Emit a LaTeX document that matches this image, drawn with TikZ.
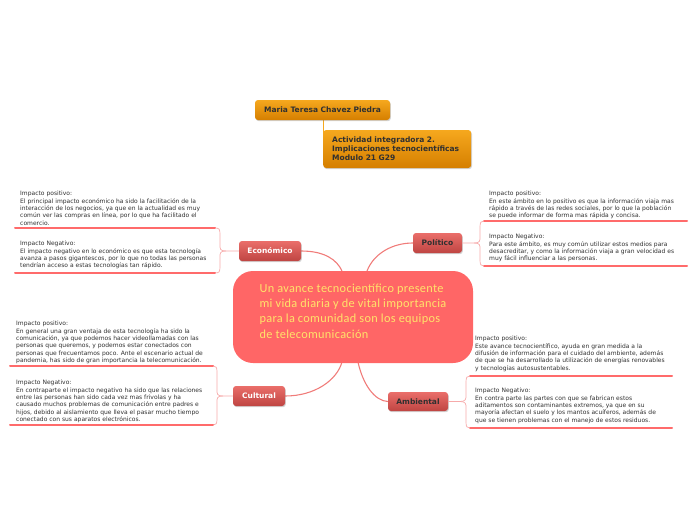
\documentclass[tikz,border=0pt]{standalone}
\usepackage{fontspec}
\setmainfont{DejaVu Sans}
\newfontfamily\centralfont[LetterSpace=2.5]{Carlito}
\usetikzlibrary{shadows}
\definecolor{centralred}{HTML}{FF6666}
\definecolor{centraltext}{HTML}{FFE36A}
\definecolor{branchtop}{HTML}{EA6E6A}
\definecolor{branchbot}{HTML}{BF4542}
\definecolor{orangetop}{HTML}{F6A81E}
\definecolor{orangebot}{HTML}{D57F00}
\definecolor{conn}{HTML}{F07C7A}
\definecolor{brkcol}{HTML}{F6AAAA}
\definecolor{ulcol}{HTML}{FF6B6B}
\definecolor{txt}{HTML}{303030}
\pgfdeclarelayer{bg}
\pgfsetlayers{bg,main}
\tikzset{
  branchbox/.style={rounded corners=3pt, top color=branchtop, bottom color=branchbot,
    draw=none, inner sep=0pt, minimum height=20pt,
    font=\fontsize{7.5}{8}\selectfont\bfseries,
    drop shadow={shadow xshift=0.8pt, shadow yshift=-1.2pt, opacity=0.35}},
  orangebox/.style={rounded corners=3pt, top color=orangetop, bottom color=orangebot,
    draw=none, inner sep=0pt, text=txt,
    font=\fontsize{7.5}{9}\selectfont\bfseries,
    drop shadow={shadow xshift=0.8pt, shadow yshift=-1.2pt, opacity=0.35}},
  infotext/.style={anchor=north west, align=left, inner sep=0pt, text=txt,
    font=\fontsize{6}{7.3}\selectfont},
  conline/.style={draw=conn, line width=1.1pt},
  brk/.style={draw=brkcol, line width=0.7pt},
  uline/.style={draw=ulcol, line width=2pt, line cap=round},
}
\begin{document}
\begin{tikzpicture}[x=1pt,y=-1pt]
\useasboundingbox (0,0) rectangle (696,520);

% central node
\node[fill=centralred, rounded corners=20pt, minimum width=240pt, minimum height=92pt,
  inner sep=0pt, align=left, text=centraltext, text depth=12pt,
  font=\centralfont\fontsize{12.3}{15.3}\selectfont] (central) at (353,317)
  {Un avance tecnocientífico presente\\mi vida diaria y de vital importancia\\para la comunidad son los equipos\\de telecomunicación};

% top orange nodes
\node[orangebox, minimum width=135pt, minimum height=20pt] (autor) at (322.5,110) {Maria Teresa Chavez Piedra};
\node[orangebox, minimum width=148pt, minimum height=38pt, align=left, anchor=west,
  text width=136pt, inner xsep=6pt, xshift=0pt] (actividad) at (323,149)
  {\hspace*{3pt}Actividad integradora 2.\\\hspace*{3pt}Implicaciones tecnocientíficas\\\hspace*{3pt}Modulo 21 G29};

% branch nodes
\node[branchbox, minimum width=62pt, text=white] (eco) at (270,251) {Económico};
\node[branchbox, minimum width=49pt, text=txt] (pol) at (437.5,243) {Político};
\node[branchbox, minimum width=52pt, text=white] (cul) at (259,396) {Cultural};
\node[branchbox, minimum width=60pt, text=txt, minimum height=19pt] (amb) at (418,401.5) {Ambiental};

% attach points on central node
\coordinate (cE) at (342,271);
\coordinate (cP) at (367,271);
\coordinate (cC) at (342,362);
\coordinate (cA) at (358,362);
\coordinate (orgA) at (323,120);
\coordinate (orgB) at (323,149);

\begin{pgfonlayer}{bg}
\draw[conline] (eco.east) .. controls (325,251) and (337,260) .. (cE);
\draw[conline] (cP) .. controls (374,253) and (393,243) .. (pol.west);
\draw[conline] (cul.east) .. controls (315,396) and (337,380) .. (cC);
\draw[conline] (cA) .. controls (363,385) and (375,401) .. (amb.west);
\draw[draw=orangetop, line width=0.8pt] (orgA) -- (orgB);
\end{pgfonlayer}

% text blocks
\node[infotext] (ecopos) at (20,191.2) {Impacto positivo:\\El principal impacto económico ha sido la facilitación de la\\interacción de los negocios, ya que en la actualidad es muy\\común ver las compras en línea, por lo que ha facilitado el\\comercio.};
\node[infotext] (econeg) at (20,241.2) {Impacto Negativo:\\El impacto negativo en lo económico es que esta tecnología\\avanza a pasos gigantescos, por lo que no todas las personas\\tendrían acceso a estas tecnologías tan rápido.};
\node[infotext] (polpos) at (489,191.2) {Impacto positivo:\\En este ámbito en lo positivo es que la información viaja mas\\rápido a través de las redes sociales, por lo que la población\\se puede informar de forma mas rápida y concisa.};
\node[infotext] (polneg) at (489,234.2) {Impacto Negativo:\\Para este ámbito, es muy común utilizar estos medios para\\desacreditar, y como la información viaja a gran velocidad es\\muy fácil influenciar a las personas.};
\node[infotext] (culpos) at (16,321.2) {Impacto positivo:\\En general una gran ventaja de esta tecnología ha sido la\\comunicación, ya que podemos hacer videollamadas con las\\personas que queremos, y podemos estar conectados con\\personas que frecuentamos poco. Ante el escenario actual de\\pandemia, has sido de gran importancia la telecomunicación.};
\node[infotext] (culneg) at (16,380.2) {Impacto Negativo:\\En contraparte el impacto negativo ha sido que las relaciones\\entre las personas han sido cada vez mas frivolas y ha\\causado muchos problemas de comunicación entre padres e\\hijos, debido al aislamiento que lleva el pasar mucho tiempo\\conectado con sus aparatos electrónicos.};
\node[infotext] (ambpos) at (475,336.2) {Impacto positivo:\\Este avance tecnocientífico, ayuda en gran medida a la\\difusión de información para el cuidado del ambiente, además\\de que se ha desarrollado la utilización de energías renovables\\y tecnologías autosustentables.};
\node[infotext] (ambneg) at (475,388.2) {Impacto Negativo:\\En contra parte las partes con que se fabrican estos\\aditamentos son contaminantes extremos, ya que en su\\mayoría afectan el suelo y los mantos acuíferos, además de\\que se tienen problemas con el manejo de estos residuos.};

% underline coordinates
\coordinate (e1a) at (15,228);  \coordinate (e1b) at (215,228);
\coordinate (e2a) at (15,273);  \coordinate (e2b) at (215,273);
\coordinate (p1a) at (484,221); \coordinate (p1b) at (687,221);
\coordinate (p2a) at (484,266); \coordinate (p2b) at (687,266);
\coordinate (c1a) at (10,366);  \coordinate (c1b) at (213,366);
\coordinate (c2a) at (10,425);  \coordinate (c2b) at (213,425);
\coordinate (a1a) at (470,376); \coordinate (a1b) at (672,376);
\coordinate (a2a) at (470,428); \coordinate (a2b) at (672,428);

% brackets
\draw[brk] (eco.west) -- (226,251) .. controls (220,251) and (220,249) .. (220,245) -- (220,234) .. controls (220,229) and (219,228) .. (e1b);
\draw[brk] (226,251) .. controls (220,251) and (220,253) .. (220,257) -- (220,267) .. controls (220,272) and (219,273) .. (e2b);
\draw[brk] (pol.east) -- (474,243) .. controls (480,243) and (480,241) .. (480,237) -- (480,227) .. controls (480,222) and (481,221) .. (p1a);
\draw[brk] (474,243) .. controls (480,243) and (480,245) .. (480,249) -- (480,260) .. controls (480,265) and (481,266) .. (p2a);
\draw[brk] (cul.west) -- (223,396) .. controls (217,396) and (217,394) .. (217,390) -- (217,372) .. controls (217,367) and (216,366) .. (c1b);
\draw[brk] (223,396) .. controls (217,396) and (217,398) .. (217,402) -- (217,419) .. controls (217,424) and (216,425) .. (c2b);
\draw[brk] (amb.east) -- (460,401.5) .. controls (466,401.5) and (466,399) .. (466,395) -- (466,382) .. controls (466,377) and (467,376) .. (a1a);
\draw[brk] (460,401.5) .. controls (466,401.5) and (466,404) .. (466,408) -- (466,422) .. controls (466,427) and (467,428) .. (a2a);

% underlines
\draw[uline] (e1a) -- (e1b);
\draw[uline] (e2a) -- (e2b);
\draw[uline] (p1a) -- (p1b);
\draw[uline] (p2a) -- (p2b);
\draw[uline] (c1a) -- (c1b);
\draw[uline] (c2a) -- (c2b);
\draw[uline] (a1a) -- (a1b);
\draw[uline] (a2a) -- (a2b);
\end{tikzpicture}
\end{document}
